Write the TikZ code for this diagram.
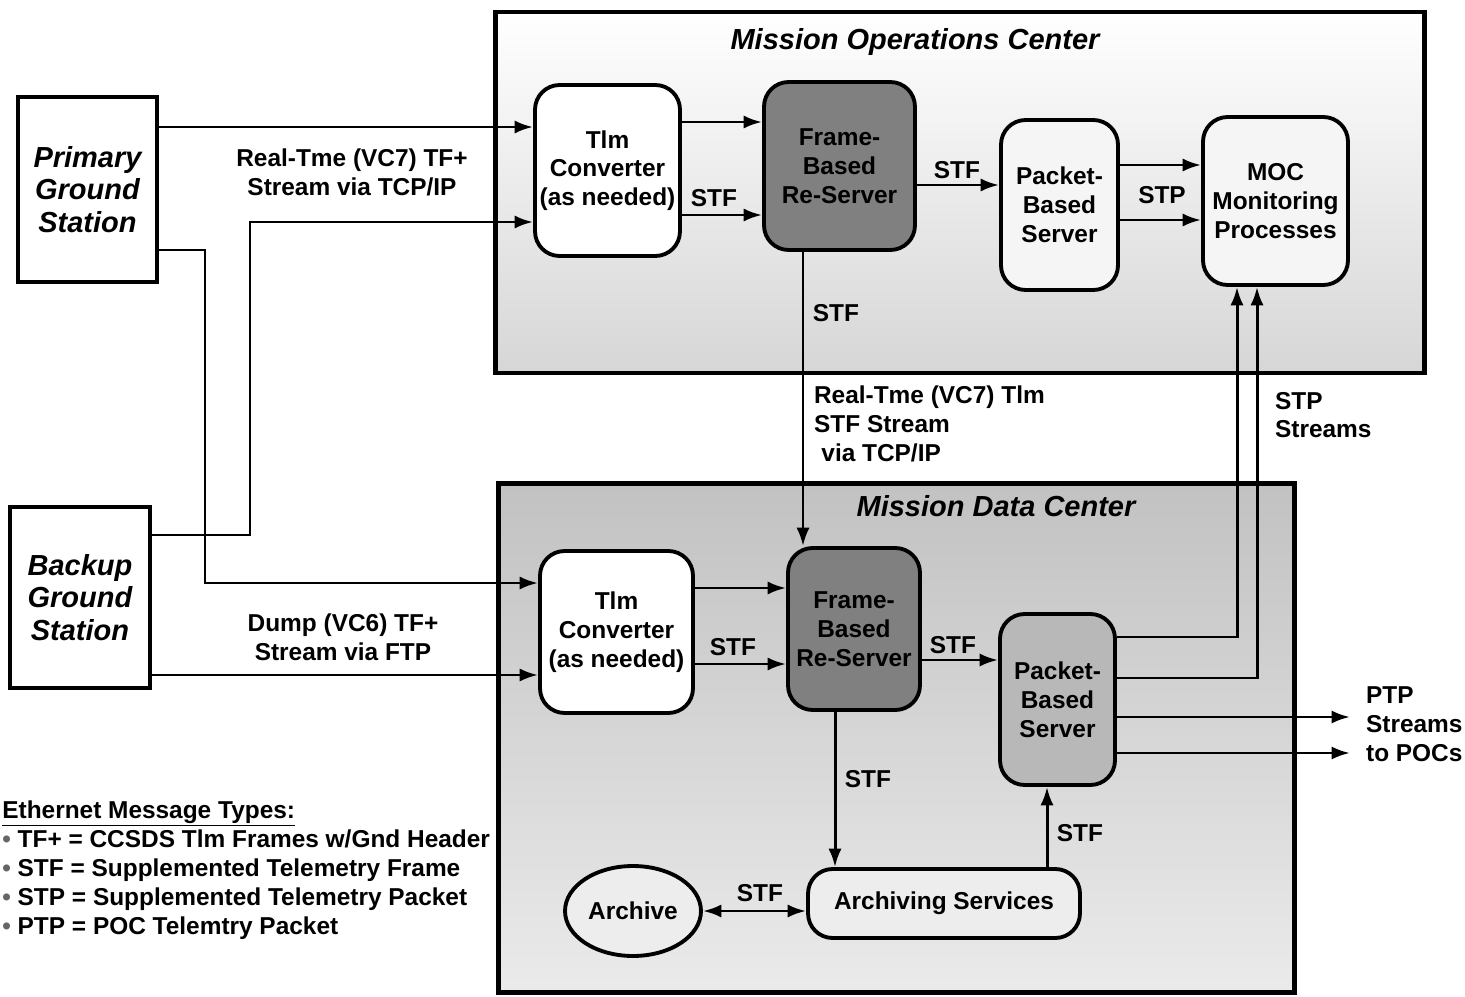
\documentclass[tikz,border=0pt]{standalone}
\usepackage{fontspec}
\setmainfont{Liberation Sans}
\usetikzlibrary{arrows.meta,shapes.geometric}
\begin{document}
\begin{tikzpicture}[x=0.02cm,y=-0.02cm,
  lbl/.style={font=\fontsize{13.9}{16.4}\selectfont\bfseries, align=center, inner sep=1pt},
  ttl/.style={font=\fontsize{16.5}{18.7}\selectfont\bfseries\itshape, align=center},
  box/.style={draw, line width=2.2pt, rounded corners=14pt, align=center, inner sep=0pt,
              font=\fontsize{13.9}{16.4}\selectfont\bfseries},
  frame/.style={draw, line width=2.8pt, inner sep=0pt},
  conn/.style={line width=1.7pt},
  arr/.style={conn, -{Latex[length=10.5pt,width=7.5pt]}},
  darr/.style={conn, {Latex[length=10.5pt,width=7.5pt]}-{Latex[length=10.5pt,width=7.5pt]}},
]
\useasboundingbox (0,0) rectangle (1465,997);
% centers
\node[frame, minimum width=18.6cm, minimum height=7.22cm, top color=white, bottom color=black!16] (moc) at (960,192.5) {};
\node[frame, minimum width=15.94cm, minimum height=10.2cm, top color=black!24, bottom color=black!8] (mdc) at (896.5,738) {};
\node[ttl] (moct) at (915,42) {Mission Operations Center};
\node[ttl] (mdct) at (996,506) {Mission Data Center};
% ground stations
\node[frame, ttl, minimum width=2.78cm, minimum height=3.7cm] (pgs) at (87.5,189.5) {Primary\\Ground\\Station};
\node[frame, ttl, minimum width=2.8cm, minimum height=3.62cm] (bgs) at (80,597.5) {Backup\\Ground\\Station};
% MOC boxes
\node[box, fill=white, minimum width=2.9cm, minimum height=3.42cm] (tc1) at (607.5,170.5) {Tlm\\Converter\\(as needed)};
\node[box, fill=black!50, minimum width=3.02cm, minimum height=3.36cm] (fb1) at (839.5,166) {Frame-\\Based\\Re-Server};
\node[box, fill=black!4, minimum width=2.34cm, minimum height=3.4cm] (pb1) at (1059.5,205) {Packet-\\Based\\Server};
\node[box, fill=black!4, minimum width=2.9cm, minimum height=3.36cm] (mon) at (1275.5,201) {MOC\\Monitoring\\Processes};
% MDC boxes
\node[box, fill=white, minimum width=3.06cm, minimum height=3.24cm] (tc2) at (616.5,632) {Tlm\\Converter\\(as needed)};
\node[box, fill=black!50, minimum width=2.64cm, minimum height=3.24cm] (fb2) at (854,629) {Frame-\\Based\\Re-Server};
\node[box, fill=black!28, minimum width=2.3cm, minimum height=3.42cm] (pb2) at (1057.5,699.5) {Packet-\\Based\\Server};
\node[box, fill=black!7, minimum width=5.44cm, minimum height=1.38cm] (arc) at (944,903.5) {Archiving Services};
\node[ellipse, draw, line width=2.2pt, fill=black!7, inner sep=0pt, minimum width=2.72cm, minimum height=1.8cm,
      font=\fontsize{13.9}{16.4}\selectfont\bfseries] (archive) at (633,911) {Archive};
% ground station connectors
\draw[arr] (pgs.east |- 0,127) -- (tc1.west |- 0,127);
\draw[arr] (pgs.east |- 0,250) -- (205,250) -- (205,583) -- (tc2.west |- 0,583);
\draw[arr] (bgs.east |- 0,535) -- (250,535) -- (250,222) -- (tc1.west |- 0,222);
\draw[arr] (bgs.east |- 0,675) -- (tc2.west |- 0,675);
\node[lbl] (l1) at (352,172) {Real-Tme (VC7) TF+\\Stream via TCP/IP};
\node[lbl] (l2) at (343,637) {Dump (VC6) TF+\\Stream via FTP};
% MOC connectors
\draw[arr] (tc1.east |- 0,122) -- (fb1.west |- 0,122);
\draw[arr] (tc1.east |- 0,215) -- (fb1.west |- 0,215);
\node[lbl] (s1) at (714,198) {STF};
\draw[arr] (fb1.east |- 0,185) -- (pb1.west |- 0,185);
\node[lbl] (s2) at (957,170) {STF};
\draw[arr] (pb1.east |- 0,165) -- (mon.west |- 0,165);
\draw[arr] (pb1.east |- 0,220) -- (mon.west |- 0,220);
\node[lbl] (s3) at (1162,195) {STP};
\draw[arr] (fb1.south -| 803,0) -- (fb2.north -| 803,0);
\node[lbl] (s4) at (836,313) {STF};
\node[lbl, anchor=north west, align=left] (l3) at (812,384) {Real-Tme (VC7) Tlm\\STF Stream\\\hspace{0.3em}via TCP/IP};
% MDC connectors
\draw[arr] (tc2.east |- 0,588) -- (fb2.west |- 0,588);
\draw[arr] (tc2.east |- 0,664) -- (fb2.west |- 0,664);
\node[lbl] (s5) at (733,647) {STF};
\draw[arr] (fb2.east |- 0,660) -- (pb2.west |- 0,660);
\node[lbl] (s6) at (953,645) {STF};
\draw[arr] (fb2.south -| 835,0) -- (arc.north -| 835,0);
\node[lbl] (s7) at (868,779) {STF};
\draw[arr] (arc.north -| 1047,0) -- (pb2.south -| 1047,0);
\node[lbl] (s8) at (1080,833) {STF};
\draw[darr] (archive.east) -- (arc.west |- archive.east);
\node[lbl] (s9) at (760,893) {STF};
\draw[arr] (pb2.east |- 0,637) -- (1237,637) -- (mon.south -| 1237,0);
\draw[arr] (pb2.east |- 0,678) -- (1257,678) -- (mon.south -| 1257,0);
\node[lbl, anchor=north west, align=left] (l4) at (1273,390) {STP\\Streams};
\coordinate (o1) at (1350,717);
\coordinate (o2) at (1350,753);
\draw[arr] (pb2.east |- o1) -- (o1);
\draw[arr] (pb2.east |- o2) -- (o2);
\node[lbl, anchor=north west, align=left] (l5) at (1364,685) {PTP\\Streams\\to POCs};
% legend
\node[anchor=north west, align=left, inner sep=0pt, font=\fontsize{13.9}{16.6}\selectfont\bfseries] (leg) at (2,800)
 {\underline{Ethernet Message Types:}\\
  {\color{black!60}•} TF+ = CCSDS Tlm Frames w/Gnd Header\\
  {\color{black!60}•} STF = Supplemented Telemetry Frame\\
  {\color{black!60}•} STP = Supplemented Telemetry Packet\\
  {\color{black!60}•} PTP = POC Telemtry Packet};
\end{tikzpicture}
\end{document}
